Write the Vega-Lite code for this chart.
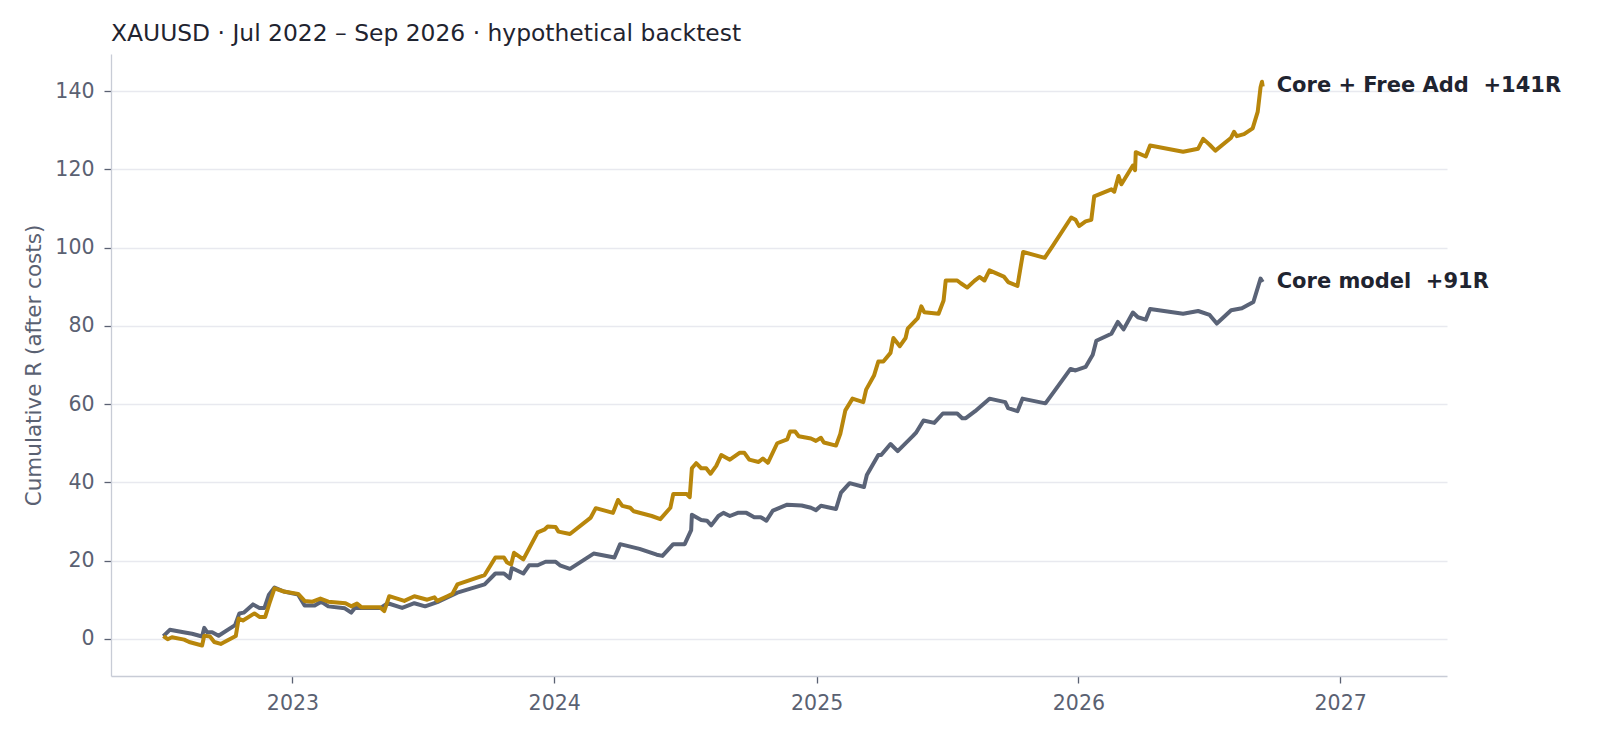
{
  "$schema": "https://vega.github.io/schema/vega-lite/v6.json",
  "width": 1336,
  "height": 622,
  "autosize": {"type": "none"},
  "padding": {"left": 111, "top": 54, "right": 153, "bottom": 60},
  "background": "white",
  "title": {
    "text": "XAUUSD · Jul 2022 – Sep 2026 · hypothetical backtest",
    "anchor": "start",
    "frame": "group",
    "fontSize": 23.4,
    "fontWeight": "normal",
    "color": "#1f2430",
    "baseline": "alphabetic",
    "offset": 12,
    "dy": 22
  },
  "datasets": {
    "core": [
      {"date": "2022-07-05", "r": 0.7}, {"date": "2022-07-14", "r": 2.3}, {"date": "2022-08-04", "r": 1.6},
      {"date": "2022-08-14", "r": 1.3}, {"date": "2022-08-28", "r": 0.6}, {"date": "2022-08-31", "r": 2.8},
      {"date": "2022-09-04", "r": 1.7}, {"date": "2022-09-11", "r": 1.7}, {"date": "2022-09-20", "r": 0.8},
      {"date": "2022-10-13", "r": 3.5}, {"date": "2022-10-19", "r": 6.5}, {"date": "2022-10-25", "r": 6.7},
      {"date": "2022-11-07", "r": 8.8}, {"date": "2022-11-16", "r": 7.9}, {"date": "2022-11-23", "r": 7.9},
      {"date": "2022-11-29", "r": 11.2}, {"date": "2022-12-07", "r": 13.1}, {"date": "2022-12-20", "r": 12.1},
      {"date": "2023-01-09", "r": 11.3}, {"date": "2023-01-18", "r": 8.5}, {"date": "2023-02-01", "r": 8.5},
      {"date": "2023-02-10", "r": 9.5}, {"date": "2023-02-20", "r": 8.3}, {"date": "2023-03-15", "r": 7.8},
      {"date": "2023-03-24", "r": 6.7}, {"date": "2023-03-29", "r": 7.9}, {"date": "2023-05-04", "r": 7.9},
      {"date": "2023-05-14", "r": 9.1}, {"date": "2023-06-03", "r": 7.9}, {"date": "2023-06-20", "r": 9.1},
      {"date": "2023-07-05", "r": 8.3}, {"date": "2023-07-22", "r": 9.4}, {"date": "2023-08-05", "r": 10.6},
      {"date": "2023-08-19", "r": 11.8}, {"date": "2023-09-26", "r": 13.9}, {"date": "2023-10-11", "r": 16.7},
      {"date": "2023-10-23", "r": 16.7}, {"date": "2023-10-31", "r": 15.5}, {"date": "2023-11-03", "r": 18.1},
      {"date": "2023-11-19", "r": 16.7}, {"date": "2023-11-27", "r": 18.8}, {"date": "2023-12-09", "r": 18.8},
      {"date": "2023-12-20", "r": 19.7}, {"date": "2024-01-03", "r": 19.7}, {"date": "2024-01-09", "r": 18.8},
      {"date": "2024-01-23", "r": 17.9}, {"date": "2024-02-25", "r": 21.8}, {"date": "2024-03-25", "r": 20.8},
      {"date": "2024-04-02", "r": 24.2}, {"date": "2024-04-29", "r": 23.0}, {"date": "2024-05-23", "r": 21.5},
      {"date": "2024-05-31", "r": 21.2}, {"date": "2024-06-15", "r": 24.2}, {"date": "2024-07-01", "r": 24.2},
      {"date": "2024-07-10", "r": 27.8}, {"date": "2024-07-11", "r": 31.7}, {"date": "2024-07-24", "r": 30.4},
      {"date": "2024-08-01", "r": 30.2}, {"date": "2024-08-07", "r": 29.0}, {"date": "2024-08-17", "r": 31.4},
      {"date": "2024-08-24", "r": 32.2}, {"date": "2024-09-02", "r": 31.4}, {"date": "2024-09-13", "r": 32.2},
      {"date": "2024-09-25", "r": 32.2}, {"date": "2024-10-06", "r": 31.1}, {"date": "2024-10-15", "r": 31.1},
      {"date": "2024-10-23", "r": 30.2}, {"date": "2024-11-01", "r": 32.8}, {"date": "2024-11-21", "r": 34.3},
      {"date": "2024-12-11", "r": 34.1}, {"date": "2024-12-24", "r": 33.5}, {"date": "2024-12-31", "r": 32.9},
      {"date": "2025-01-07", "r": 34.0}, {"date": "2025-01-28", "r": 33.2}, {"date": "2025-02-04", "r": 37.4},
      {"date": "2025-02-16", "r": 39.8}, {"date": "2025-03-08", "r": 38.8}, {"date": "2025-03-12", "r": 41.9},
      {"date": "2025-03-28", "r": 47.0}, {"date": "2025-04-01", "r": 47.0}, {"date": "2025-04-14", "r": 49.8},
      {"date": "2025-04-24", "r": 48.0}, {"date": "2025-05-15", "r": 51.8}, {"date": "2025-05-20", "r": 52.8},
      {"date": "2025-05-30", "r": 55.8}, {"date": "2025-06-14", "r": 55.2}, {"date": "2025-06-26", "r": 57.6},
      {"date": "2025-07-16", "r": 57.6}, {"date": "2025-07-23", "r": 56.4}, {"date": "2025-07-28", "r": 56.4},
      {"date": "2025-08-10", "r": 58.2}, {"date": "2025-08-30", "r": 61.4}, {"date": "2025-09-21", "r": 60.5},
      {"date": "2025-09-25", "r": 59.0}, {"date": "2025-10-08", "r": 58.2}, {"date": "2025-10-15", "r": 61.4},
      {"date": "2025-11-16", "r": 60.2}, {"date": "2025-11-28", "r": 63.2}, {"date": "2025-12-21", "r": 69.0},
      {"date": "2025-12-28", "r": 68.6}, {"date": "2026-01-11", "r": 69.5}, {"date": "2026-01-21", "r": 72.6},
      {"date": "2026-01-26", "r": 76.2}, {"date": "2026-02-16", "r": 78.0}, {"date": "2026-02-25", "r": 81.0},
      {"date": "2026-03-05", "r": 79.1}, {"date": "2026-03-18", "r": 83.4}, {"date": "2026-03-25", "r": 82.2},
      {"date": "2026-04-05", "r": 81.6}, {"date": "2026-04-11", "r": 84.3}, {"date": "2026-05-27", "r": 83.1},
      {"date": "2026-06-17", "r": 83.8}, {"date": "2026-07-03", "r": 82.8}, {"date": "2026-07-13", "r": 80.6},
      {"date": "2026-08-02", "r": 84.0}, {"date": "2026-08-17", "r": 84.5}, {"date": "2026-09-02", "r": 86.1},
      {"date": "2026-09-12", "r": 92.1}, {"date": "2026-09-15", "r": 91.2}
    ],
    "addon": [
      {"date": "2022-07-05", "r": 0.7}, {"date": "2022-07-11", "r": -0.1}, {"date": "2022-07-17", "r": 0.4},
      {"date": "2022-08-03", "r": -0.2}, {"date": "2022-08-10", "r": -0.8}, {"date": "2022-08-28", "r": -1.7},
      {"date": "2022-08-31", "r": 0.8}, {"date": "2022-09-08", "r": 0.6}, {"date": "2022-09-14", "r": -0.8},
      {"date": "2022-09-23", "r": -1.3}, {"date": "2022-10-14", "r": 0.7}, {"date": "2022-10-18", "r": 5.2},
      {"date": "2022-10-24", "r": 4.7}, {"date": "2022-11-09", "r": 6.5}, {"date": "2022-11-16", "r": 5.6},
      {"date": "2022-11-24", "r": 5.6}, {"date": "2022-11-30", "r": 9.1}, {"date": "2022-12-07", "r": 12.9},
      {"date": "2022-12-20", "r": 12.1}, {"date": "2023-01-09", "r": 11.5}, {"date": "2023-01-18", "r": 9.7},
      {"date": "2023-01-29", "r": 9.5}, {"date": "2023-02-09", "r": 10.3}, {"date": "2023-02-20", "r": 9.5},
      {"date": "2023-03-16", "r": 9.1}, {"date": "2023-03-24", "r": 8.3}, {"date": "2023-04-01", "r": 9.0},
      {"date": "2023-04-07", "r": 8.1}, {"date": "2023-05-03", "r": 8.1}, {"date": "2023-05-09", "r": 7.1},
      {"date": "2023-05-16", "r": 10.9}, {"date": "2023-06-06", "r": 9.7}, {"date": "2023-06-20", "r": 10.9},
      {"date": "2023-07-08", "r": 10.0}, {"date": "2023-07-18", "r": 10.6}, {"date": "2023-07-22", "r": 9.7},
      {"date": "2023-08-05", "r": 10.9}, {"date": "2023-08-12", "r": 11.5}, {"date": "2023-08-19", "r": 13.9},
      {"date": "2023-09-26", "r": 16.3}, {"date": "2023-10-11", "r": 20.8}, {"date": "2023-10-23", "r": 20.8},
      {"date": "2023-10-27", "r": 19.6}, {"date": "2023-11-02", "r": 19.0}, {"date": "2023-11-06", "r": 22.0},
      {"date": "2023-11-19", "r": 20.3}, {"date": "2023-12-09", "r": 27.2}, {"date": "2023-12-19", "r": 28.0},
      {"date": "2023-12-23", "r": 28.7}, {"date": "2024-01-03", "r": 28.6}, {"date": "2024-01-07", "r": 27.4},
      {"date": "2024-01-23", "r": 26.8}, {"date": "2024-02-21", "r": 31.0}, {"date": "2024-02-28", "r": 33.4},
      {"date": "2024-03-23", "r": 32.2}, {"date": "2024-03-30", "r": 35.5}, {"date": "2024-04-05", "r": 34.0},
      {"date": "2024-04-16", "r": 33.5}, {"date": "2024-04-21", "r": 32.6}, {"date": "2024-05-16", "r": 31.4},
      {"date": "2024-05-28", "r": 30.6}, {"date": "2024-06-11", "r": 33.5}, {"date": "2024-06-15", "r": 37.0},
      {"date": "2024-07-04", "r": 37.0}, {"date": "2024-07-08", "r": 36.2}, {"date": "2024-07-11", "r": 43.6},
      {"date": "2024-07-17", "r": 44.9}, {"date": "2024-07-24", "r": 43.6}, {"date": "2024-07-31", "r": 43.6},
      {"date": "2024-08-06", "r": 42.2}, {"date": "2024-08-14", "r": 44.2}, {"date": "2024-08-21", "r": 47.0},
      {"date": "2024-09-02", "r": 45.8}, {"date": "2024-09-16", "r": 47.6}, {"date": "2024-09-22", "r": 47.6},
      {"date": "2024-09-29", "r": 45.8}, {"date": "2024-10-12", "r": 45.2}, {"date": "2024-10-18", "r": 46.1},
      {"date": "2024-10-25", "r": 45.0}, {"date": "2024-11-07", "r": 50.0}, {"date": "2024-11-21", "r": 51.0},
      {"date": "2024-11-25", "r": 53.0}, {"date": "2024-12-02", "r": 53.0}, {"date": "2024-12-07", "r": 51.8},
      {"date": "2024-12-24", "r": 51.2}, {"date": "2024-12-31", "r": 50.6}, {"date": "2025-01-07", "r": 51.4},
      {"date": "2025-01-11", "r": 50.2}, {"date": "2025-01-28", "r": 49.4}, {"date": "2025-02-03", "r": 52.4},
      {"date": "2025-02-10", "r": 58.4}, {"date": "2025-02-20", "r": 61.4}, {"date": "2025-03-07", "r": 60.5},
      {"date": "2025-03-11", "r": 63.7}, {"date": "2025-03-22", "r": 67.3}, {"date": "2025-03-28", "r": 70.9},
      {"date": "2025-04-04", "r": 70.9}, {"date": "2025-04-14", "r": 73.1}, {"date": "2025-04-18", "r": 76.9},
      {"date": "2025-04-27", "r": 74.8}, {"date": "2025-05-05", "r": 76.9}, {"date": "2025-05-08", "r": 79.3},
      {"date": "2025-05-22", "r": 82.0}, {"date": "2025-05-27", "r": 85.0}, {"date": "2025-05-31", "r": 83.5},
      {"date": "2025-06-20", "r": 83.1}, {"date": "2025-06-27", "r": 86.5}, {"date": "2025-06-30", "r": 91.6},
      {"date": "2025-07-16", "r": 91.6}, {"date": "2025-07-21", "r": 90.9}, {"date": "2025-07-30", "r": 89.8},
      {"date": "2025-08-09", "r": 91.5}, {"date": "2025-08-16", "r": 92.5}, {"date": "2025-08-23", "r": 91.6},
      {"date": "2025-08-30", "r": 94.2}, {"date": "2025-09-19", "r": 92.6}, {"date": "2025-09-25", "r": 91.2},
      {"date": "2025-10-08", "r": 90.2}, {"date": "2025-10-16", "r": 98.9}, {"date": "2025-11-15", "r": 97.4},
      {"date": "2025-11-26", "r": 100.4}, {"date": "2025-12-22", "r": 107.7}, {"date": "2025-12-28", "r": 107.1},
      {"date": "2026-01-02", "r": 105.5}, {"date": "2026-01-11", "r": 106.7}, {"date": "2026-01-19", "r": 107.1},
      {"date": "2026-01-23", "r": 113.1}, {"date": "2026-02-16", "r": 114.9}, {"date": "2026-02-20", "r": 114.3},
      {"date": "2026-02-26", "r": 118.3}, {"date": "2026-03-02", "r": 116.2}, {"date": "2026-03-18", "r": 121.0},
      {"date": "2026-03-21", "r": 119.8}, {"date": "2026-03-22", "r": 124.4}, {"date": "2026-04-05", "r": 123.3},
      {"date": "2026-04-11", "r": 126.1}, {"date": "2026-05-27", "r": 124.5}, {"date": "2026-06-17", "r": 125.3},
      {"date": "2026-06-24", "r": 127.8}, {"date": "2026-07-03", "r": 126.3}, {"date": "2026-07-11", "r": 124.8},
      {"date": "2026-08-02", "r": 128.1}, {"date": "2026-08-06", "r": 129.6}, {"date": "2026-08-10", "r": 128.5},
      {"date": "2026-08-20", "r": 129.0}, {"date": "2026-09-01", "r": 130.5}, {"date": "2026-09-08", "r": 134.7},
      {"date": "2026-09-12", "r": 141.0}, {"date": "2026-09-14", "r": 142.4}, {"date": "2026-09-15", "r": 141.2}
    ],
    "labels": [
      {"date": "2026-09-15", "r": 141.2, "label": "Core + Free Add \u00a0+141R"},
      {"date": "2026-09-15", "r": 91.2, "label": "Core model \u00a0+91R"}
    ]
  },
  "encoding": {
    "x": {
      "field": "date",
      "type": "temporal",
      "scale": {
        "type": "utc",
        "domain": [
          {"year": 2022, "month": 4, "date": 23, "utc": true},
          {"year": 2027, "month": 5, "date": 30, "utc": true}
        ]
      },
      "axis": {
        "title": null,
        "grid": false,
        "format": "%Y",
        "formatType": "utc",
        "values": [
          {"year": 2023, "utc": true},
          {"year": 2024, "utc": true},
          {"year": 2025, "utc": true},
          {"year": 2026, "utc": true},
          {"year": 2027, "utc": true}
        ]
      }
    },
    "y": {
      "field": "r",
      "type": "quantitative",
      "scale": {"domain": [-9.5, 149.5], "nice": false, "zero": false},
      "axis": {
        "title": "Cumulative R (after costs)",
        "grid": true,
        "titlePadding": 9,
        "values": [0, 20, 40, 60, 80, 100, 120, 140]
      }
    }
  },
  "layer": [
    {
      "data": {"name": "core"},
      "mark": {"type": "line", "color": "#5a6377", "strokeWidth": 4, "strokeJoin": "round"}
    },
    {
      "data": {"name": "addon"},
      "mark": {"type": "line", "color": "#b8860b", "strokeWidth": 4, "strokeJoin": "round"}
    },
    {
      "data": {"name": "labels"},
      "mark": {
        "type": "text",
        "align": "left",
        "baseline": "middle",
        "dx": 14,
        "fontSize": 21,
        "fontWeight": "bold",
        "color": "#1f2430"
      },
      "encoding": {"text": {"field": "label"}}
    }
  ],
  "config": {
    "font": "DejaVu Sans",
    "view": {"stroke": null},
    "axis": {
      "domainColor": "#c8ccd6",
      "domainWidth": 1.3,
      "tickColor": "#5a6172",
      "tickSize": 7,
      "tickWidth": 1.3,
      "labelColor": "#5a6172",
      "labelFontSize": 20.5,
      "labelPadding": 10,
      "titleColor": "#5a6172",
      "titleFontSize": 21.5,
      "titleFontWeight": "normal",
      "gridColor": "#e8e9ef",
      "gridWidth": 1.3
    }
  }
}
